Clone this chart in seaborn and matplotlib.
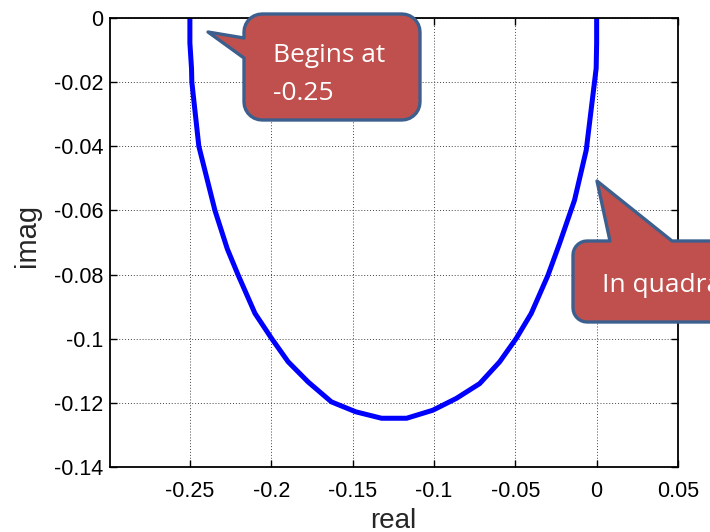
import matplotlib
matplotlib.use("Agg")
import matplotlib.pyplot as plt
import seaborn as sns
import pandas as pd
import numpy as np
from matplotlib.patches import Polygon
from matplotlib.transforms import Affine2D

# root locus branch
real = [-0.2500, -0.2500, -0.2490, -0.2488, -0.2445, -0.2346, -0.2270, -0.2203,
        -0.2100, -0.1998, -0.1896, -0.1773, -0.1630, -0.1480, -0.1322, -0.1168,
        -0.1007, -0.0862, -0.0719, -0.0596, -0.0494, -0.0402, -0.0299, -0.0228,
        -0.0136, -0.0064, -0.0013, -0.0003, 0.0000, 0.0000]
imag = [0.0000, -0.0078, -0.0157, -0.0200, -0.0400, -0.0600, -0.0720, -0.0802,
        -0.0921, -0.0999, -0.1072, -0.1135, -0.1197, -0.1228, -0.1248, -0.1248,
        -0.1223, -0.1186, -0.1140, -0.1072, -0.0999, -0.0921, -0.0802, -0.0703,
        -0.0568, -0.0412, -0.0199, -0.0157, -0.0078, 0.0000]

x_ticks = [-0.25, -0.2, -0.15, -0.1, -0.05, 0, 0.05]
x_tick_labels = ['-0.25', '-0.2', '-0.15', '-0.1', '-0.05', '0', '0.05']
y_ticks = [0, -0.02, -0.04, -0.06, -0.08, -0.1, -0.12, -0.14]
y_tick_labels = ['0', '-0.02', '-0.04', '-0.06', '-0.08', '-0.1', '-0.12', '-0.14']

sns.set_style("ticks")
plt.rcParams['font.family'] = ['Liberation Sans', 'DejaVu Sans']

W, H = 710, 532
fig = plt.figure(figsize=(W / 100, H / 100), dpi=100)
ax = fig.add_axes([110 / W, 65 / H, 568 / W, 449 / H])

df = pd.DataFrame({'real': real, 'imag': imag})
sns.lineplot(data=df, x='real', y='imag', sort=False, estimator=None,
             color='#0000ff', lw=3.6, ax=ax)

ax.set_xlim(-0.2991, 0.05)
ax.set_ylim(-0.14, 0)
ax.set_xticks(x_ticks)
ax.set_xticklabels(x_tick_labels, fontsize=15.5)
ax.set_yticks(y_ticks)
ax.set_yticklabels(y_tick_labels, fontsize=15.5)
ax.grid(True, color='#444444', linestyle=(0, (1, 2)), linewidth=0.7)
ax.tick_params(direction='in', top=True, right=True, length=5, width=1,
               colors='black')
ax.tick_params(axis='x', pad=10)
ax.tick_params(axis='y', pad=5)
for s in ax.spines.values():
    s.set_linewidth(1.3)
    s.set_color('black')
ax.set_xlabel('')
ax.set_ylabel('')

# callout shapes and labels in image pixel coords (y down)
pix = Affine2D().scale(1, -1).translate(0, H)

fig.text(393, 528, 'real', transform=pix, fontsize=20, ha='center', va='baseline')
fig.text(27, 235, 'imag', transform=pix, fontsize=21, ha='center', va='center',
         rotation=90)


def rounded_box(x0, y0, x1, y1, r, n=8):
    pts = []
    corners = [(x1 - r, y0 + r, -90, 0), (x1 - r, y1 - r, 0, 90),
               (x0 + r, y1 - r, 90, 180), (x0 + r, y0 + r, 180, 270)]
    for cx, cy, a0, a1 in corners:
        for t in np.linspace(np.radians(a0), np.radians(a1), n):
            pts.append((cx + r * np.cos(t), cy + r * np.sin(t)))
    return pts


def callout(x0, y0, x1, y1, r, side, b0, b1, tip):
    box = rounded_box(x0, y0, x1, y1, r)
    # corners run: top-right, bottom-right, bottom-left, top-left
    if side == 'left':
        i = 24
        wedge = [(x0, b1), tip, (x0, b0)]
    else:
        i = 32
        wedge = [(b0, y0), tip, (b1, y0)]
    pts = box[:i] + wedge + box[i:]
    return Polygon(pts, closed=True, facecolor='#c0504d', edgecolor='#3d5f8e',
                   lw=2.4, transform=pix, joinstyle='round')


fig.patches.append(callout(244, 14, 420, 120, 18, 'left', 38, 58, (208, 32)))
fig.patches.append(callout(573, 241, 745, 322, 14, 'top', 610, 672, (597, 181)))

fig.text(273, 62, 'Begins at', transform=pix, color='white', fontsize=19,
         family=['Open Sans', 'DejaVu Sans'], va='baseline')
fig.text(273, 100, '-0.25', transform=pix, color='white', fontsize=19,
         family=['Open Sans', 'DejaVu Sans'], va='baseline')
fig.text(602, 292, 'In quadrant III', transform=pix, color='white', fontsize=19,
         family=['Open Sans', 'DejaVu Sans'], va='baseline')

fig.savefig('out.png', dpi=100)
